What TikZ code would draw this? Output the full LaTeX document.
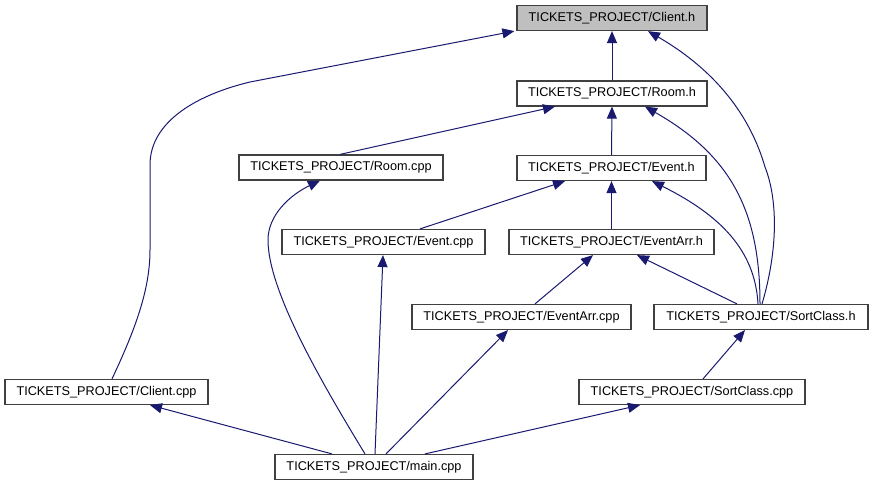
\documentclass[tikz,border=0pt]{standalone}
\usepackage{fontspec}
\setmainfont{Liberation Sans}
\usetikzlibrary{arrows.meta}
\definecolor{edgecol}{HTML}{191970}
\definecolor{boxcol}{HTML}{404040}
\definecolor{hifill}{HTML}{BFBFBF}
\tikzset{
  filebox/.style={draw=boxcol, line width=1.2pt, rectangle, inner sep=0pt,
    minimum height=25pt, font=\fontsize{12.7}{15}\selectfont, fill=white},
  edge/.style={draw=edgecol, line width=1pt,
    -{Triangle[length=12pt,width=10pt,fill=edgecol]}}
}
\begin{document}
\begin{tikzpicture}[x=1pt,y=-1pt]
\useasboundingbox (0,0) rectangle (873,485);

\node[filebox, fill=hifill, minimum width=190pt] (clienth) at (612,18) {TICKETS\_PROJECT/Client.h};
\node[filebox, minimum width=190pt] (roomh) at (612,93.5) {TICKETS\_PROJECT/Room.h};
\node[filebox, minimum width=204pt] (roomcpp) at (341,167.5) {TICKETS\_PROJECT/Room.cpp};
\node[filebox, minimum width=189pt] (eventh) at (611.5,168) {TICKETS\_PROJECT/Event.h};
\node[filebox, minimum width=203pt] (eventcpp) at (383.5,242) {TICKETS\_PROJECT/Event.cpp};
\node[filebox, minimum width=205pt] (eventarrh) at (611.5,242) {TICKETS\_PROJECT/EventArr.h};
\node[filebox, minimum width=219pt] (eventarrcpp) at (521.5,317) {TICKETS\_PROJECT/EventArr.cpp};
\node[filebox, minimum width=214pt] (sortclassh) at (761,317) {TICKETS\_PROJECT/SortClass.h};
\node[filebox, minimum width=203pt] (clientcpp) at (106.5,392) {TICKETS\_PROJECT/Client.cpp};
\node[filebox, minimum width=226pt] (sortclasscpp) at (692,392) {TICKETS\_PROJECT/SortClass.cpp};
\node[filebox, minimum width=198pt] (maincpp) at (374,467) {TICKETS\_PROJECT/main.cpp};

% to Client.h
\draw[edge] (roomh.north) -- (clienth.south);
\draw[edge] ([xshift=5.5pt]clientcpp.north) .. controls (135,330) and (150,290) .. (150,250)
  -- (150,165) .. controls (150,120) and (200,94) .. (250,82) -- ([xshift=-2pt]clienth.south west);
\draw[edge] ([xshift=1pt]sortclassh.north) .. controls (778,250) and (778,200) .. (765,167)
  .. controls (750,115) and (715,70) .. ([xshift=36pt]clienth.south);

% to Room.h
\draw[edge] (eventh.north) -- (roomh.south);
\draw[edge] ([xshift=-1pt]roomcpp.north) -- ([xshift=-57pt]roomh.south);
\draw[edge] ([xshift=-1pt]sortclassh.north) .. controls (760,210) and (730,155) .. ([xshift=33pt]roomh.south);

% to Event.h
\draw[edge] (eventarrh.north) -- (eventh.south);
\draw[edge] ([xshift=36.5pt]eventcpp.north) -- ([xshift=-46.5pt]eventh.south);
\draw[edge] ([xshift=-3pt]sortclassh.north) .. controls (755,250) and (720,215) .. ([xshift=40.5pt]eventh.south);

% to EventArr.h
\draw[edge] ([xshift=13.5pt]eventarrcpp.north) -- ([xshift=-18.5pt]eventarrh.south);
\draw[edge] ([xshift=-24pt]sortclassh.north) -- ([xshift=25.5pt]eventarrh.south);

% to SortClass.h
\draw[edge] ([xshift=11pt]sortclasscpp.north) -- ([xshift=-16pt]sortclassh.south);

% from main.cpp
\draw[edge] ([xshift=-42pt]maincpp.north) -- ([xshift=43.5pt]clientcpp.south);
\draw[edge] ([xshift=-9pt]maincpp.north) .. controls (320,380) and (268,290) .. (268,240)
  .. controls (268,215) and (290,195) .. ([xshift=-21pt]roomcpp.south);
\draw[edge] ([xshift=1pt]maincpp.north) -- ([xshift=-0.5pt]eventcpp.south);
\draw[edge] ([xshift=12pt]maincpp.north) -- ([xshift=-13.5pt]eventarrcpp.south);
\draw[edge] ([xshift=51pt]maincpp.north) -- ([xshift=-52pt]sortclasscpp.south);
\end{tikzpicture}
\end{document}
